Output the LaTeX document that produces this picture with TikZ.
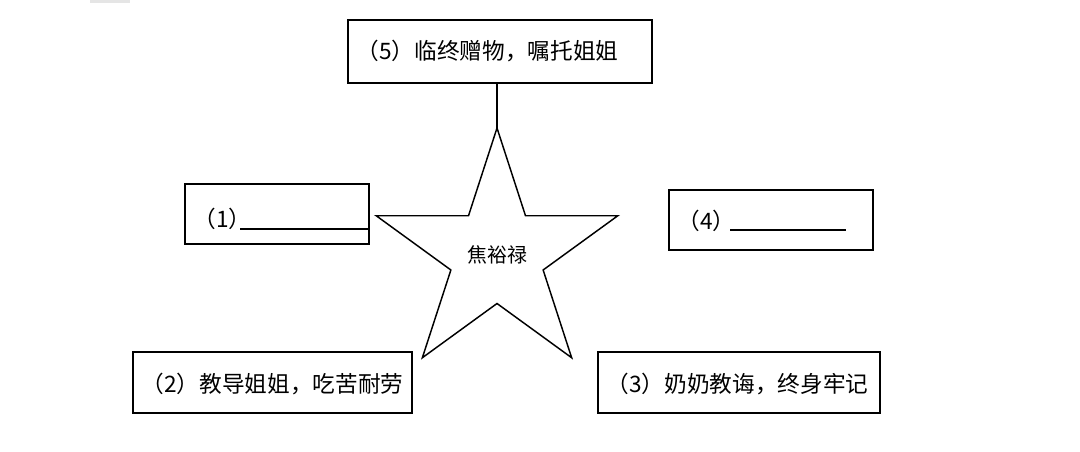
\documentclass[tikz,border=0pt]{standalone}
\usepackage{fontspec}
\newfontfamily\cjk{Noto Sans CJK SC}
\usetikzlibrary{calc}
\begin{document}
\begin{tikzpicture}[x=0.75pt,y=-0.75pt,
  lbl/.style={font=\cjk\fontsize{17}{20}\selectfont,anchor=west}]
\useasboundingbox (0,0) rectangle (1080,452);
\fill[gray!20] (90,0) rectangle (130,3);
% boxes
\draw[line width=1.5pt] (348,20) rectangle (652,83);
\node[lbl] (t5) at (352,51) {（5）临终赠物，嘱托姐姐};
\draw[line width=1.5pt] (185,184) rectangle (369,244);
\node[lbl] (t1) at (189,219) {（1）};
\draw[line width=0.8pt] (240,229) -- (368,229);
\draw[line width=1.5pt] (669,190) rectangle (873,250);
\node[lbl] (t4) at (673,221) {（4）};
\draw[line width=0.8pt] (730,230) -- (846,230);
\draw[line width=1.5pt] (133,352) rectangle (412,413);
\node[lbl] (t2) at (137,384) {（2）教导姐姐，吃苦耐劳};
\draw[line width=1.5pt] (598,352) rectangle (880,413);
\node[lbl] (t3) at (602,384) {（3）奶奶教诲，终身牢记};
% star
\coordinate (c) at (497,255);
\coordinate (top) at ($(c)+(-90:127)$);
\coordinate (b5) at (497,83);
\draw[line width=1.2pt] (b5) -- (top);
\draw[line width=1.1pt,line join=miter]
  (top) -- ($(c)+(-126:48.5)$) -- ($(c)+(-162:127)$) -- ($(c)+(-198:48.5)$)
  -- ($(c)+(-234:127)$) -- ($(c)+(-270:48.5)$) -- ($(c)+(-306:127)$)
  -- ($(c)+(-342:48.5)$) -- ($(c)+(-18:127)$) -- ($(c)+(-54:48.5)$) -- cycle;
\node[font=\cjk\fontsize{15}{18}\selectfont] (name) at (c) {焦裕禄};
\end{tikzpicture}
\end{document}
